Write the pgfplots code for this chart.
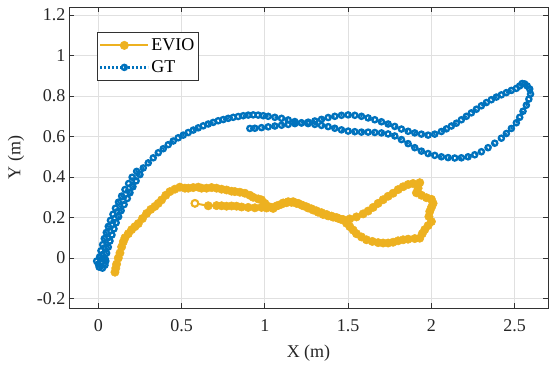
\documentclass[border=0pt]{standalone}
\usepackage{fontspec}
\setmainfont{Liberation Serif}
\usepackage{pgfplots}
\pgfplotsset{compat=1.18}

\definecolor{evio}{RGB}{237,177,32}
\definecolor{gt}{RGB}{0,114,189}
\definecolor{axgray}{RGB}{50,50,50}

\begin{document}
\begin{tikzpicture}
\useasboundingbox (-69pt,-57pt) rectangle (480pt,308pt);
\begin{axis}[
  scale only axis, width=479pt, height=301pt,
  xmin=-0.176, xmax=2.70, ymin=-0.247, ymax=1.24,
  xtick={0,0.5,1,1.5,2,2.5}, xticklabels={0,0.5,1,1.5,2,2.5},
  ytick={-0.2,0,0.2,0.4,0.6,0.8,1,1.2},
  yticklabels={-0.2,0,0.2,0.4,0.6,0.8,1,1.2},
  grid=major,
  major grid style={line width=0.8pt, draw=black!12},
  axis line style={draw=axgray, line width=0.8pt},
  tick style={draw=axgray, line width=0.8pt},
  major tick length=5pt,
  tick align=inside,
  ticklabel style={font=\fontsize{18}{21}\selectfont, text=black!85},
  xticklabel style={yshift=-8pt},
  xlabel={X (m)}, ylabel={Y (m)},
  x label style={font=\fontsize{18}{21}\selectfont, text=black!85,
    at={(axis description cs:0.5,-0.15)}, anchor=center},
  y label style={font=\fontsize{18}{21}\selectfont, text=black!85,
    at={(axis description cs:-0.1105,0.5)}, anchor=center},
  legend style={at={(0.058,0.917)}, anchor=north west,
    draw=axgray, line width=0.8pt, fill=white,
    inner xsep=2pt, inner ysep=2pt,
    font=\fontsize{18}{21}\selectfont,
    nodes={inner sep=2pt, text height=14pt, text depth=4pt}},
  legend cell align=left,
  legend image code/.code={%
    \draw[mark repeat=2,mark phase=2,#1]
      plot coordinates {(0pt,0pt) (24pt,0pt) (48pt,0pt)};},
]

% estimated trajectory
\addplot[color=evio, line width=2pt, mark=*, mark size=4.2pt,
  mark options={solid, fill=evio, draw=evio, line width=0.5pt}]
coordinates {
(0.10,-0.07) (0.105,-0.05) (0.11,-0.03) (0.12,0.0) (0.13,0.025) (0.14,0.055)
(0.15,0.08) (0.16,0.10) (0.18,0.12) (0.20,0.14) (0.22,0.155) (0.24,0.17)
(0.265,0.195) (0.29,0.22) (0.315,0.24) (0.34,0.255) (0.36,0.27) (0.38,0.287)
(0.405,0.31) (0.43,0.328) (0.46,0.34) (0.49,0.35) (0.52,0.345) (0.54,0.345)
(0.57,0.348) (0.60,0.35) (0.62,0.345) (0.65,0.345) (0.68,0.348) (0.71,0.345)
(0.74,0.34) (0.77,0.336) (0.80,0.33) (0.82,0.328) (0.85,0.325) (0.88,0.32)
(0.91,0.31) (0.93,0.30) (0.96,0.292) (0.98,0.287) (1.00,0.27) (1.02,0.255)
(1.05,0.245) (1.08,0.26) (1.11,0.272) (1.14,0.278) (1.17,0.278) (1.20,0.27)
(1.23,0.258) (1.26,0.247) (1.29,0.237) (1.32,0.226) (1.35,0.215) (1.38,0.208)
(1.41,0.202) (1.44,0.196) (1.47,0.19) (1.51,0.193) (1.55,0.203) (1.59,0.218)
(1.62,0.232) (1.65,0.25) (1.68,0.27) (1.71,0.288) (1.74,0.305) (1.77,0.32)
(1.80,0.338) (1.83,0.352) (1.86,0.363) (1.89,0.368) (1.93,0.372) (1.92,0.345)
(1.91,0.322) (1.94,0.31) (1.97,0.298) (2.00,0.29) (2.01,0.27) (2.00,0.25)
(1.99,0.23) (1.985,0.205) (2.00,0.18) (1.98,0.16) (1.96,0.14) (1.945,0.12)
(1.93,0.098) (1.90,0.096) (1.86,0.093) (1.83,0.09) (1.80,0.085) (1.77,0.078)
(1.74,0.074) (1.71,0.074) (1.68,0.076) (1.645,0.082) (1.61,0.09) (1.58,0.104)
(1.55,0.12) (1.53,0.138) (1.51,0.155) (1.49,0.172) (1.46,0.19) (1.43,0.2)
(1.40,0.207) (1.37,0.215) (1.34,0.224) (1.31,0.233) (1.28,0.243) (1.25,0.253)
(1.22,0.262) (1.19,0.27) (1.16,0.275) (1.13,0.273) (1.10,0.266) (1.07,0.257)
(1.04,0.25) (1.01,0.247) (0.98,0.25) (0.94,0.248) (0.90,0.25) (0.86,0.252)
(0.83,0.256) (0.80,0.257) (0.77,0.256) (0.74,0.258) (0.71,0.259) (0.66,0.258)
(0.58,0.27)
};
\addlegendentry{EVIO}

% ground truth trajectory
\addplot[color=gt, line width=2.3pt, dash pattern=on 2pt off 2pt,
  mark=o, mark size=2.6pt, mark options={solid}]
coordinates {
(0.00,-0.03) (-0.01,-0.015) (0.005,-0.045) (0.025,-0.05) (0.04,-0.035)
(0.045,-0.015) (0.03,0.0) (0.01,0.0) (0.02,-0.02)
(0.008,0.006) (0.042,-0.006) (0.016,0.036) (0.050,0.024) (0.026,0.066)
(0.060,0.054) (0.036,0.096) (0.070,0.084) (0.048,0.126) (0.082,0.114)
(0.060,0.156) (0.094,0.144) (0.073,0.186) (0.107,0.174) (0.088,0.216)
(0.122,0.204) (0.103,0.246) (0.137,0.234) (0.121,0.276) (0.155,0.264)
(0.140,0.306) (0.174,0.294) (0.160,0.338) (0.190,0.322) (0.182,0.368)
(0.208,0.352) (0.203,0.399) (0.227,0.381) (0.230,0.428) (0.250,0.412)
(0.27,0.445) (0.30,0.47) (0.33,0.495) (0.36,0.52) (0.39,0.54) (0.42,0.56)
(0.45,0.578) (0.48,0.594) (0.51,0.607) (0.54,0.62) (0.57,0.632) (0.60,0.643)
(0.63,0.653) (0.66,0.662) (0.69,0.67) (0.72,0.678) (0.75,0.684) (0.78,0.69)
(0.81,0.695) (0.84,0.699) (0.87,0.703) (0.90,0.706) (0.93,0.707) (0.96,0.706)
(0.99,0.703) (1.02,0.70) (1.06,0.695) (1.10,0.69) (1.14,0.682) (1.18,0.674)
(1.22,0.668) (1.26,0.664) (1.30,0.66) (1.34,0.655) (1.38,0.649) (1.42,0.641)
(1.46,0.633) (1.50,0.627) (1.54,0.624) (1.58,0.622) (1.62,0.622) (1.66,0.62)
(1.70,0.618) (1.74,0.613) (1.78,0.603) (1.82,0.585) (1.86,0.565) (1.90,0.545)
(1.94,0.528) (1.98,0.516) (2.02,0.507) (2.06,0.50) (2.10,0.496) (2.14,0.494)
(2.18,0.495) (2.22,0.50) (2.26,0.51) (2.30,0.525) (2.34,0.545) (2.38,0.567)
(2.42,0.592) (2.45,0.615) (2.48,0.64) (2.51,0.668) (2.53,0.695) (2.55,0.725)
(2.57,0.755) (2.585,0.785) (2.595,0.81) (2.59,0.835) (2.575,0.85) (2.56,0.86)
(2.545,0.862) (2.53,0.85) (2.51,0.838) (2.48,0.828) (2.45,0.817) (2.42,0.806)
(2.39,0.795) (2.36,0.782) (2.33,0.768) (2.30,0.752) (2.27,0.735) (2.24,0.717)
(2.21,0.70) (2.18,0.683) (2.15,0.666) (2.12,0.652) (2.09,0.638) (2.06,0.625)
(2.02,0.612) (1.98,0.607) (1.94,0.612) (1.90,0.618) (1.86,0.626) (1.82,0.637)
(1.78,0.65) (1.74,0.662) (1.70,0.673) (1.66,0.683) (1.62,0.692) (1.58,0.70)
(1.54,0.705) (1.50,0.707) (1.46,0.705) (1.42,0.70) (1.38,0.694) (1.34,0.685)
(1.30,0.677) (1.26,0.671) (1.22,0.667) (1.18,0.664) (1.14,0.66) (1.10,0.656)
(1.06,0.652) (1.02,0.648) (0.98,0.644) (0.94,0.641) (0.91,0.64)
};
\addlegendentry{GT}

% end point of the estimate
\addplot[forget plot, only marks, mark=*, mark size=3.1pt,
  mark options={fill=white, draw=evio, line width=1.6pt}]
coordinates {(0.58,0.27)};

\end{axis}
\end{tikzpicture}
\end{document}
